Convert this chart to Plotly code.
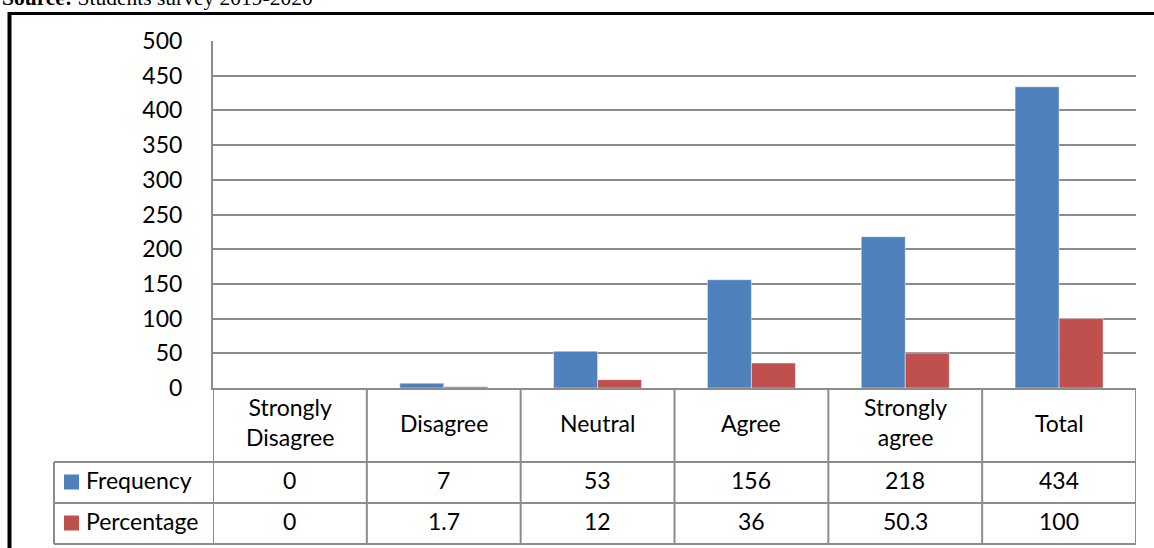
import plotly.graph_objects as go

categories = ["Strongly<br>Disagree", "Disagree", "Neutral", "Agree", "Strongly<br>agree", "Total"]
series_names = ["Frequency", "Percentage"]
frequency = [0, 7, 53, 156, 218, 434]
percentage = [0, 1.7, 12, 36, 50.3, 100]
percentage_labels = ["0", "1.7", "12", "36", "50.3", "100"]
y_ticks = [0, 50, 100, 150, 200, 250, 300, 350, 400, 450, 500]

colors = ["#4F81BD", "#C0504D"]
grid = "#8c8c8c"
FONT = "Lato"
FS = 23
LINE_FIX = 14  # Lato annotations come out too high by ~this much per line

# plot area in pixels
L, R, T, B = 213, 1136, 41, 388
W, H = 1154, 548


def px(x):
    return (x - L) / (R - L)


def py(y):
    return (B - y) / (B - T)


fig = go.Figure()
for name, vals, c in zip(series_names, [frequency, percentage], colors):
    fig.add_trace(go.Bar(x=categories, y=vals, name=name,
                         marker=dict(color=c, line=dict(width=1, color="rgba(255,255,255,0.45)"))))

fig.update_layout(
    width=W, height=H, barmode="group", bargap=0.428, bargroupgap=0,
    margin=dict(l=L, r=W - R, t=T, b=H - B, pad=0),
    plot_bgcolor="white", paper_bgcolor="white", showlegend=False,
    font=dict(family=FONT, size=FS, color="black"),
)
fig.update_yaxes(range=[0, 500], tickvals=y_ticks, showgrid=True, gridcolor=grid, gridwidth=2,
                 showline=True, linecolor=grid, linewidth=2, ticks="", ticklabelstandoff=24,
                 zeroline=False, tickfont=dict(family=FONT, size=FS))
fig.update_xaxes(range=[-0.5, 5.5], showticklabels=False, ticks="", showgrid=False,
                 showline=True, linecolor=grid, linewidth=2, zeroline=False)

shapes = []
line = dict(color=grid, width=2)
for i in range(len(categories) + 1):
    shapes.append(dict(type="line", xref="x", yref="paper", x0=i - 0.5, x1=i - 0.5,
                       y0=py(388), y1=py(544), line=line))
for yy in [462, 503, 544]:
    shapes.append(dict(type="line", xref="paper", yref="paper", x0=px(54), x1=px(1136),
                       y0=py(yy), y1=py(yy), line=line))
shapes.append(dict(type="line", xref="paper", yref="paper", x0=px(54), x1=px(54),
                   y0=py(462), y1=py(544), line=line))
for k, c in enumerate(colors):
    yc = 482 + 41 * k
    shapes.append(dict(type="rect", xref="paper", yref="paper", x0=px(64), x1=px(79),
                       y0=py(yc - 7.5), y1=py(yc + 7.5), fillcolor=c, line=dict(width=0)))
# outer black frame
shapes.append(dict(type="line", xref="paper", yref="paper", x0=px(8), x1=px(1160),
                   y0=py(13.5), y1=py(13.5), line=dict(color="black", width=3)))
shapes.append(dict(type="line", xref="paper", yref="paper", x0=px(9.5), x1=px(9.5),
                   y0=py(12), y1=py(560), line=dict(color="black", width=4)))
fig.update_layout(shapes=shapes)

ann = []
for i, cat in enumerate(categories):
    nl = cat.count("<br>") + 1
    ann.append(dict(x=cat, xref="x", y=py(425), yref="paper", text=cat, showarrow=False,
                    align="center", yshift=-LINE_FIX * nl))
    ann.append(dict(x=cat, xref="x", y=py(482), yref="paper", text=str(frequency[i]),
                    showarrow=False, yshift=-LINE_FIX))
    ann.append(dict(x=cat, xref="x", y=py(523), yref="paper", text=percentage_labels[i],
                    showarrow=False, yshift=-LINE_FIX))
for k, name in enumerate(series_names):
    ann.append(dict(x=px(84), xref="paper", xanchor="left", y=py(482 + 41 * k), yref="paper",
                    text=name, showarrow=False, yshift=-LINE_FIX))
ann.append(dict(x=px(0), xref="paper", xanchor="left", y=py(-1.5), yref="paper", yanchor="middle",
                text="<b>Source:</b> Students survey 2019-2020", showarrow=False,
                font=dict(family="Liberation Serif", size=21.5)))
fig.update_layout(annotations=ann)

fig.write_html("out.html", config={"displayModeBar": False},
               post_script="document.body.style.margin='0';")
